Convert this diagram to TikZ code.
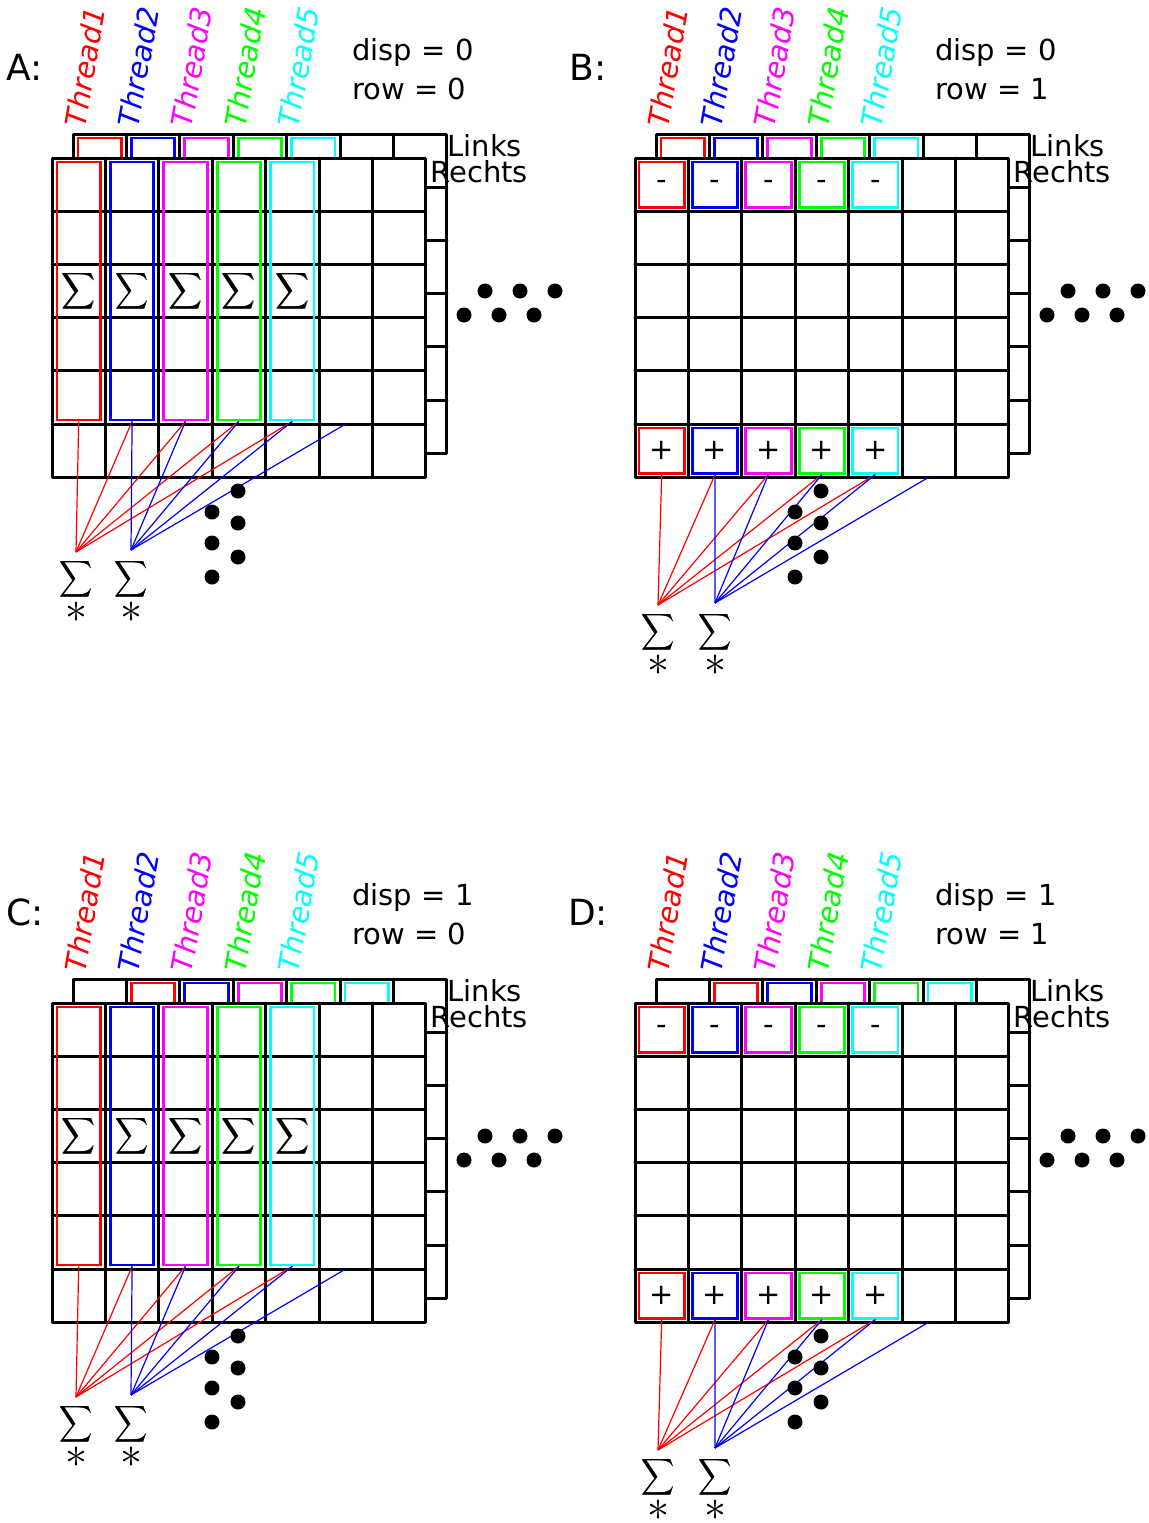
\documentclass[tikz,border=0pt]{standalone}
\usepackage{fontspec}
\setmainfont{DejaVu Sans}
\usepackage{graphicx}

\definecolor{tone}{RGB}{255,0,0}
\definecolor{ttwo}{RGB}{0,0,255}
\definecolor{tthree}{RGB}{255,0,255}
\definecolor{tfour}{RGB}{0,255,0}
\definecolor{tfive}{RGB}{0,255,255}

% cell size of the matrices (px units)
\def\cw{53.4}
\def\ch{53.2}

% summation sign, set twice with a small offset for a heavier stroke
\newcommand\onesum{$\displaystyle\sum$}
\newcommand\bigsum{\scalebox{1.15}[1.27]{\rlap{\onesum}\kern0.3pt\onesum}}
\newcommand\bigast{\scalebox{2.2}{$\ast$}}

\tikzset{
  gridline/.style={line width=1.5pt, line cap=round, line join=round},
  colframe/.style={draw=#1, line width=1.35pt},
  colbox/.style={draw=#1, line width=1.35pt, rectangle, inner sep=0pt},
  conn/.style={line width=0.6pt},
  dot/.style={circle, fill=black, inner sep=0pt, minimum size=7.5pt},
  txt/.style={font=\fontsize{14.5}{17}\selectfont, inner sep=0pt},
  thr/.style={font=\fontsize{14.5}{17}\selectfont\itshape, inner sep=0pt, rotate=80},
  lbl/.style={font=\fontsize{18}{20}\selectfont, inner sep=0pt},
  sumnode/.style={font=\normalsize, inner sep=0pt},
  pin0/.style={inner sep=0pt, minimum size=0pt, outer sep=0pt},
}

% #1 panel name, #2/#3 origin of the front matrix, #4 disp, #5 row, #6 label x offset
\newcommand\panel[6]{%
\begin{scope}[shift={(#2,#3)}]
  % back matrix (Links)
  \filldraw[gridline, fill=white] (21,-24) rectangle ++(7*\cw,6*\ch);
  \foreach \k in {1,...,6}{\draw[gridline] ({21+\k*\cw},-24) -- ++(0,6*\ch);}
  \foreach \k in {1,...,5}{\draw[gridline] (21,{-24+\k*\ch}) -- ++(7*\cw,0);}
  \foreach \k/\col in {0/tone,1/ttwo,2/tthree,3/tfour,4/tfive}{%
    \draw[colframe=\col] ({21+(\k+#4)*\cw+5},-20) rectangle ({21+(\k+#4+1)*\cw-5},{-24+5*\ch-4});}
  % front matrix (Rechts)
  \filldraw[gridline, fill=white] (0,0) rectangle (7*\cw,6*\ch);
  \foreach \k in {1,...,6}{\draw[gridline] ({\k*\cw},0) -- ++(0,6*\ch);}
  \foreach \k in {1,...,5}{\draw[gridline] (0,{\k*\ch}) -- ++(7*\cw,0);}
  \ifnum#5=0
    \foreach \k/\col in {1/tone,2/ttwo,3/tthree,4/tfour,5/tfive}{%
      \node[colbox=\col, minimum width=21.7pt, minimum height=129pt, sumnode]
        (#1s\k) at ({(\k-0.5)*\cw},{2.5*\ch}) {\bigsum};}
    \node[pin0] (#1s6) at ({5.5*\cw},{5*\ch}) {};
    \coordinate (#1rs) at (24,394);
    \coordinate (#1bs) at (79,392);
  \else
    \foreach \k/\col in {1/tone,2/ttwo,3/tthree,4/tfour,5/tfive}{%
      \node[colbox=\col, minimum width=22.7pt, minimum height=22.6pt, txt]
        (#1m\k) at ({(\k-0.5)*\cw},{0.5*\ch}) {-};
      \node[colbox=\col, minimum width=22.7pt, minimum height=22.6pt, txt]
        (#1s\k) at ({(\k-0.5)*\cw},{5.5*\ch}) {+};}
    \node[pin0] (#1s6) at ({5.5*\cw},{6*\ch}) {};
    \coordinate (#1rs) at (23,447);
    \coordinate (#1bs) at (80,445);
  \fi
  % reduction lines
  \foreach \k in {1,...,5}{\draw[conn, tone] (#1s\k.south) -- (#1rs);}
  \foreach \k in {2,...,6}{\draw[conn, ttwo] (#1s\k.south) -- (#1bs);}
  \path (#1rs) ++(0,27) node[sumnode] (#1rsig) {\bigsum};
  \path (#1rs) ++(0,60) node[sumnode] (#1rast) {\bigast};
  \path (#1bs) ++(0,29) node[sumnode] (#1bsig) {\bigsum};
  \path (#1bs) ++(0,62) node[sumnode] (#1bast) {\bigast};
  % continuation dots
  \foreach \k/\px/\py in {1/433/133,2/468/133,3/503/133,4/412/157,5/447/157,6/482/157}{%
    \node[dot] (#1e\k) at (\px,\py) {};}
  \foreach \k/\px/\py in {1/160/354,2/160/385,3/160/419,4/186/333,5/186/365,6/186/399}{%
    \node[dot] (#1v\k) at (\px,\py) {};}
  % labels
  \node[lbl] (#1lab) at (#6,-91) {#1:};
  \foreach \k/\col in {1/tone,2/ttwo,3/tthree,4/tfour,5/tfive}{%
    \node[thr, text=\col] (#1t\k) at ({33+(\k-1)*\cw},-91) {Thread\k};}
  \node[txt, anchor=west] (#1disp) at (300,-106) {disp = #4};
  \node[txt, anchor=west] (#1row) at (300,-69) {row = #5};
  \node[txt, anchor=west] (#1links) at (395,-12) {Links};
  \node[txt, anchor=west] (#1rechts) at (378,14) {Rechts};
\end{scope}}

\begin{document}
\begin{tikzpicture}[x=0.5pt, y=-0.5pt]
  \useasboundingbox (0,0) rectangle (1148,1523);
  \panel{A}{52}{158}{0}{0}{-27}
  \panel{B}{635}{158}{0}{1}{-47}
  \panel{C}{52}{1003}{1}{0}{-27}
  \panel{D}{635}{1003}{1}{1}{-47}
\end{tikzpicture}
\end{document}
